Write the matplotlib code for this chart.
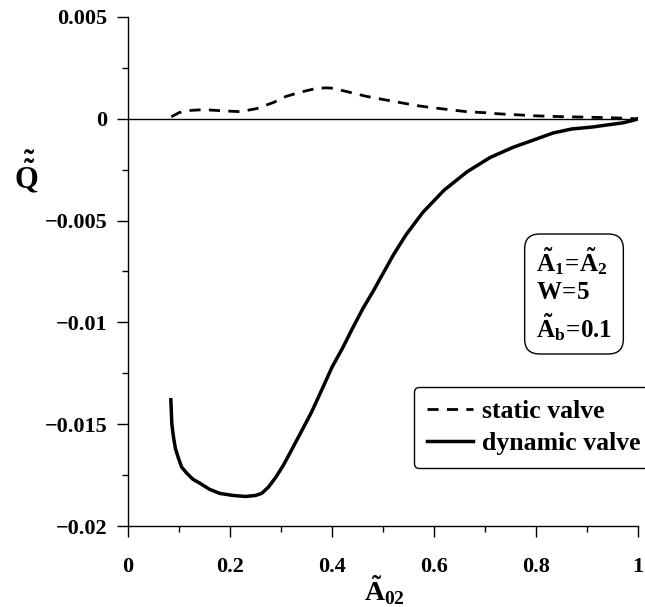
import matplotlib
matplotlib.use('Agg')
import matplotlib.pyplot as plt
import matplotlib.ticker as mticker

plt.rcParams['font.family'] = ['Liberation Serif', 'DejaVu Serif']
plt.rcParams['font.weight'] = 'bold'
plt.rcParams['mathtext.fontset'] = 'custom'
plt.rcParams['mathtext.rm'] = 'Liberation Serif:bold'
plt.rcParams['mathtext.it'] = 'Liberation Serif:bold'
plt.rcParams['mathtext.bf'] = 'Liberation Serif:bold'

# dynamic valve curve
dyn_x = [0.084, 0.086, 0.089, 0.093, 0.098, 0.105, 0.115, 0.127, 0.141, 0.160,
         0.180, 0.206, 0.230, 0.250, 0.262, 0.275, 0.290, 0.305, 0.320, 0.337,
         0.360, 0.382, 0.400, 0.422, 0.440, 0.461, 0.480, 0.500, 0.520, 0.545,
         0.578, 0.620, 0.665, 0.710, 0.755, 0.800, 0.833, 0.870, 0.912, 0.940,
         0.970, 0.990, 1.0]
dyn_y = [-0.0138, -0.0150, -0.0156, -0.0162, -0.0166, -0.0171, -0.0174, -0.0177, -0.0179, -0.0182,
         -0.0184, -0.0185, -0.01855, -0.0185, -0.0184, -0.0181, -0.0176, -0.0170, -0.0163, -0.0155,
         -0.0144, -0.0132, -0.0122, -0.0112, -0.0103, -0.0093, -0.0085, -0.0076, -0.0067, -0.0057,
         -0.0046, -0.0035, -0.0026, -0.0019, -0.0014, -0.0010, -0.0007, -0.0005, -0.0004, -0.0003,
         -0.0002, -0.00008, 0.0]

# static valve curve
sta_x = [0.085, 0.100, 0.115, 0.148, 0.180, 0.220, 0.252, 0.285, 0.310, 0.337,
         0.370, 0.390, 0.402, 0.435, 0.468, 0.500, 0.533, 0.566, 0.598, 0.630,
         0.664, 0.700, 0.729, 0.760, 0.794, 0.830, 0.860, 0.900, 0.950, 1.0]
sta_y = [0.0001, 0.0003, 0.0004, 0.00045, 0.0004, 0.00035, 0.0005, 0.0008, 0.0011, 0.0013,
         0.0015, 0.00152, 0.0015, 0.0013, 0.0011, 0.00095, 0.0008, 0.00065, 0.00054, 0.00045,
         0.00035, 0.0003, 0.00024, 0.0002, 0.00015, 0.00012, 0.0001, 0.00008, 0.00005, 0.0]

x_ticks = [0, 0.2, 0.4, 0.6, 0.8, 1]
x_labels = ['0', '0.2', '0.4', '0.6', '0.8', '1']
y_ticks = [-0.02, -0.015, -0.01, -0.005, 0, 0.005]
y_labels = ['\u22120.02', '\u22120.015', '\u22120.01', '\u22120.005', '0', '0.005']

fig = plt.figure(figsize=(6.45, 6.07), dpi=100)
ax = fig.add_axes([128/645, 1-526/607, 510/645, 509/607])

ax.axhline(0, color='black', lw=1.0, zorder=1)
ax.plot(sta_x, sta_y, color='black', lw=2.0, ls=(0, (4, 3)), label='static valve')
ax.plot(dyn_x, dyn_y, color='black', lw=2.5, label='dynamic valve')

ax.set_xlim(0, 1)
ax.set_ylim(-0.02, 0.005)
ax.set_xticks(x_ticks)
ax.set_xticklabels(x_labels)
ax.set_yticks(y_ticks)
ax.set_yticklabels(y_labels)
ax.xaxis.set_minor_locator(mticker.MultipleLocator(0.1))
ax.yaxis.set_minor_locator(mticker.MultipleLocator(0.0025))
ax.tick_params(which='major', direction='out', length=8, width=1, labelsize=16, pad=7)
ax.tick_params(axis='x', which='major', pad=14)
ax.tick_params(which='minor', direction='out', length=4, width=1)
for s in ['top', 'right']:
    ax.spines[s].set_visible(False)
for s in ['left', 'bottom']:
    ax.spines[s].set_linewidth(1.0)

# axis labels placed by hand like the original
fig.text(26/645, 1-172/607, r'$\tilde{\tilde{Q}}$', fontsize=22, ha='center', va='center')
fig.text(384/645, 1-590/607, r'$\tilde{A}_{02}$', fontsize=20, ha='center', va='center')

# parameter box
fig.text(574/645, 1-294/607, '$\\tilde{A}_1\\!=\\!\\tilde{A}_2$\n$W\\!=\\!5$\n$\\tilde{A}_b\\!=\\!0.1$',
         fontsize=18, ha='center', va='center', multialignment='left', linespacing=1.25,
         bbox=dict(boxstyle='round,pad=0.45,rounding_size=0.6', fc='white', ec='black', lw=1))

leg = ax.legend(loc='upper left', bbox_to_anchor=(414/645, 1-387/607), bbox_transform=fig.transFigure,
                fontsize=18.5, frameon=True, fancybox=True, edgecolor='black', framealpha=1,
                handlelength=1.8, handletextpad=0.35, borderpad=0.5, labelspacing=0.35,
                borderaxespad=0)
leg.get_frame().set_linewidth(1.0)

fig.savefig('out.png', dpi=100)
